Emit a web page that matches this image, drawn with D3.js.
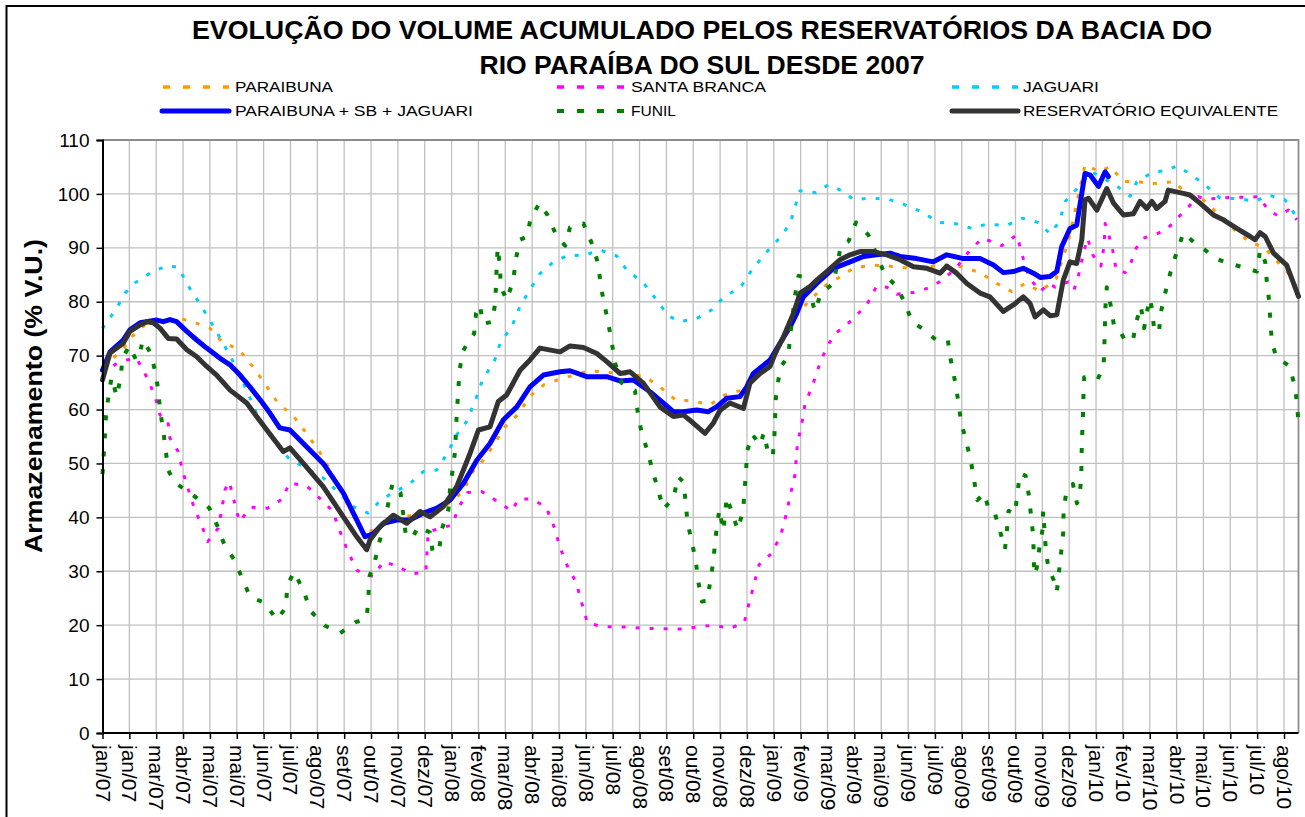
<!DOCTYPE html>
<html><head><meta charset="utf-8">
<script src="https://cdn.jsdelivr.net/npm/d3@7"></script>
<style>
html,body{margin:0;padding:0;background:#fff;}
svg{display:block;font-family:"Liberation Sans",Arial,sans-serif;}
</style></head>
<body>
<svg id="chart" width="1305" height="817"></svg>
<script>
// ---------- DATA ----------
const titleLines = ["EVOLUÇÃO DO VOLUME ACUMULADO PELOS RESERVATÓRIOS DA BACIA DO", "RIO PARAÍBA DO SUL DESDE 2007"];
const yLabel = "Armazenamento (% V.U.)";
const xTickLabels = ["jan/07","jan/07","mar/07","abr/07","mai/07","mai/07","jun/07","jul/07","ago/07","set/07","out/07","nov/07","dez/07",
 "jan/08","fev/08","mar/08","abr/08","mai/08","jun/08","jul/08","ago/08","set/08","out/08","nov/08","dez/08",
 "jan/09","fev/09","mar/09","abr/09","mai/09","jun/09","jul/09","ago/09","set/09","out/09","nov/09","dez/09",
 "jan/10","fev/10","mar/10","abr/10","mai/10","jun/10","jul/10","ago/10"];
const yTicks = [0,10,20,30,40,50,60,70,80,90,100,110];
const xMax = 44.54; // position of right edge, in tick-interval units

// series: [position in tick-interval units, % V.U.]
const paraibuna = [[0,68],[0.72,70.9],[1.09,73.5],[1.58,75.7],[2.33,76.5],[2.82,77],[3.45,76.1],[4.0,75.1],[4.44,72.6],[5.08,71.1],[5.59,68],[6.05,64.8],[6.53,61.2],[7.11,58.8],[7.58,55.7],[8.04,52.5],[8.41,49.4],[8.78,45.7],[9.19,41.9],[9.66,37.5],[10.15,37.5],[10.89,40],[11.83,40.5],[12.45,40.8],[13.19,43.8],[13.44,44.9],[13.75,48.2],[14.25,51],[14.99,56.8],[15.49,59.2],[15.92,62.5],[16.44,64.6],[17.01,65.6],[18.13,67.2],[18.78,66.9],[20.18,66.2],[20.76,64.2],[21.36,61.7],[21.88,61.7],[22.63,60.9],[23.18,62.7],[23.81,63.6],[24.18,66.4],[25.05,70],[25.85,77.6],[26.29,80],[26.85,82.8],[27.4,84.4],[27.96,86.2],[28.65,86.8],[29.33,86.6],[30.08,86.2],[31.38,86.8],[32.0,86.5],[32.68,85.4],[33.3,83.4],[33.86,81.9],[34.36,83.4],[34.92,81.9],[35.51,84.2],[35.97,91.2],[36.59,105.4],[37.15,104.1],[37.52,105.1],[38.02,102.3],[38.52,102.3],[39.08,101.9],[39.94,102.3],[40.38,99.8],[41.0,98.9],[42.24,93],[42.74,91],[43.23,90.2],[44.16,85.3],[44.54,82]];

const santaBranca = [[0,66.5],[0.53,68.6],[0.9,69.2],[1.27,69.5],[1.65,66],[1.96,62.4],[2.14,59],[2.43,58.1],[2.51,54.7],[2.82,52.2],[2.99,48.5],[3.2,45.1],[3.42,41.7],[3.72,38.2],[3.92,35.5],[4.31,38],[4.44,41.4],[4.56,45.1],[4.72,46.6],[4.91,42.9],[5.1,39.2],[5.53,41.9],[6.14,41.7],[6.7,43.4],[6.96,46.4],[7.61,45.8],[8.1,43.5],[8.57,41.2],[8.85,37.3],[9.13,33.8],[9.47,30.2],[9.84,29.3],[10.09,29.1],[10.46,31.8],[10.96,31],[11.52,29.5],[12.04,29.9],[12.13,37.3],[12.57,38],[13.03,38.6],[13.25,41.7],[13.59,44.6],[14.12,44.8],[14.63,43.2],[15.24,41.2],[15.49,43.4],[15.98,43.4],[16.52,41.9],[16.82,38.2],[17.04,34.4],[17.29,31.2],[17.64,27.9],[17.85,24.1],[18.06,20.4],[18.65,19.7],[19.27,19.7],[20.35,19.4],[21.51,19.3],[22.75,20],[23.37,19.4],[23.9,20.5],[24.08,24.1],[24.26,27.5],[24.45,31.2],[24.92,33.3],[25.26,36.7],[25.45,40.3],[25.61,44],[25.79,48],[25.88,53.7],[26.04,57.3],[26.16,61],[26.45,64.6],[26.72,68.6],[27.01,72],[27.34,74.3],[27.84,76.3],[28.46,79.4],[28.83,82.9],[29.21,82.7],[29.58,81.4],[30.2,81.7],[30.79,82.6],[31.17,83.7],[31.75,86],[32.31,89.6],[32.77,91.8],[33.49,90.4],[34.05,92.4],[34.29,88],[34.51,84.5],[34.92,81.9],[35.24,83.4],[35.48,82.7],[35.97,83.7],[36.18,82.2],[36.34,84.7],[36.53,89],[36.68,91.8],[36.88,88.7],[37.18,86.6],[37.3,90.5],[37.34,94.5],[37.46,92.7],[37.62,89.6],[37.75,85.9],[38.08,85.4],[38.27,86.8],[38.49,89.9],[38.76,91.8],[39.26,92.6],[39.63,93.4],[39.94,95],[40.32,97],[40.81,99.5],[41.06,99],[42.18,99.4],[42.74,99.4],[43.05,99.5],[43.42,97],[43.79,95.9],[44.16,97],[44.48,95.2]];

const jaguari = [[0,75],[0.09,75.7],[0.53,78.8],[0.84,81.6],[1.24,83.6],[1.8,85.4],[2.41,86.7],[2.82,86.4],[3.2,82.9],[3.63,79.6],[4.05,76.1],[4.46,72.6],[4.83,69.2],[5.18,65.6],[5.47,62.4],[5.78,58.8],[6.92,51],[8.22,47.3],[9.34,42],[9.9,40.8],[10.27,42.7],[10.77,44.5],[11.39,46],[11.95,48.5],[12.45,48.8],[12.88,52.2],[13.19,55.3],[13.56,57.8],[13.87,61.5],[14.16,65.6],[14.59,68.9],[14.8,72.2],[15.26,75.6],[15.55,79.2],[15.95,82.5],[16.29,85.2],[16.73,87.1],[17.35,88.7],[17.88,88.5],[18.53,89.6],[19.15,88.5],[19.52,85.9],[20.14,83.5],[20.64,80.3],[21.07,77.4],[21.51,76.3],[22.13,76.9],[22.69,78.5],[23.18,81.1],[23.74,82.5],[24.18,85.9],[24.71,89.1],[25.21,91.8],[25.61,94.5],[25.79,97.6],[25.98,100.6],[26.57,100.2],[27.03,101.7],[27.53,100.6],[27.99,98.9],[28.52,99.2],[29.27,99],[29.82,98.1],[30.51,96.7],[31.13,94.7],[31.69,94.6],[32.37,93.6],[32.93,94.4],[33.65,94.1],[34.26,95.5],[34.85,94.7],[35.29,92.6],[35.64,94.9],[35.85,98.6],[36.28,100.9],[36.84,104.1],[37.71,101.7],[38.27,99.6],[38.52,102.3],[39.14,104.1],[39.61,104.3],[40.01,105.2],[40.57,103.5],[41.12,101.4],[41.62,99.2],[42.36,99.1],[42.92,98.6],[43.42,99.8],[44.04,98.9],[44.54,95.2]];

const somaPSJ = [[0,67.3],[0.28,70.7],[0.77,72.9],[1.02,74.8],[1.4,76.1],[2.02,76.6],[2.26,76.3],[2.51,76.7],[2.76,76.3],[3.14,74.5],[3.51,72.9],[3.88,71.4],[4.38,69.5],[4.75,68.3],[5.12,66.4],[5.49,64.2],[5.87,61.8],[6.24,59.3],[6.6,56.6],[6.98,56.2],[7.48,53.7],[8.22,50],[8.97,44.5],[9.47,39.5],[9.78,36.4],[10.09,37],[10.46,38.9],[10.96,39.5],[11.45,39.5],[11.95,40.8],[12.45,41.7],[12.94,43.2],[13.44,46.3],[13.94,50.6],[14.43,53.7],[14.93,58.1],[15.43,60.5],[15.92,64.2],[16.42,66.4],[17.04,67],[17.41,67.2],[18.03,66.1],[18.78,66.1],[19.27,65.3],[19.77,65.5],[20.39,63.3],[20.89,61.2],[21.26,59.6],[21.63,59.6],[22.13,59.9],[22.56,59.6],[22.87,60.5],[23.25,62.1],[23.74,62.4],[23.99,64.2],[24.24,66.7],[24.86,69.2],[25.23,72.3],[25.61,75.4],[25.85,77.8],[26.1,80.9],[26.6,83.4],[27.22,86.2],[27.84,87.4],[28.34,88.4],[28.83,88.7],[29.33,89],[29.7,88.4],[30.32,88],[30.94,87.4],[31.44,88.7],[32.06,88],[32.68,88],[33.18,86.8],[33.55,85.4],[33.92,85.6],[34.29,86.2],[34.67,85.3],[34.92,84.5],[35.29,84.7],[35.54,85.6],[35.72,90.2],[36.03,93.6],[36.28,94.2],[36.47,100.1],[36.59,103.8],[36.78,103.5],[37.09,101.4],[37.34,104.1],[37.46,103.2]];

const funil = [[0,48],[0.09,55.1],[0.13,58.8],[0.22,62.4],[0.34,66],[0.53,62.4],[0.68,66],[0.74,69.5],[1.0,71.8],[1.25,69.2],[1.37,69.9],[1.5,72.9],[1.77,70.7],[1.96,67.2],[2.08,63.5],[2.14,60],[2.26,56.2],[2.36,52.2],[2.45,48.7],[2.7,46.4],[3.01,45.4],[3.32,44.3],[3.69,42.9],[3.98,41.7],[4.28,38.4],[4.54,34.9],[4.91,32.1],[5.22,28.5],[5.49,25.3],[6.05,24.1],[6.49,21],[6.83,23.3],[6.88,27.3],[7.13,29.9],[7.5,26.3],[7.73,22.7],[8.29,19.9],[8.85,18.5],[9.41,20.5],[9.84,21.3],[9.9,25],[9.94,29],[10.15,32],[10.3,35.3],[10.46,38],[10.7,44],[10.8,46.3],[11.1,44.5],[11.29,37],[11.54,36.1],[11.75,38.3],[12.2,37.2],[12.3,33.4],[12.54,34],[12.63,37.7],[12.88,41.4],[12.94,45.1],[13.13,52.2],[13.16,55.9],[13.2,59.8],[13.25,63.5],[13.29,67],[13.41,70.7],[13.62,72.6],[13.84,74.1],[13.91,77.8],[14.06,79.4],[14.16,75.9],[14.53,76.3],[14.62,79.8],[14.66,83.4],[14.68,87.1],[14.72,90.1],[14.8,86.5],[14.83,82.9],[15.05,80.3],[15.3,84],[15.39,87.8],[15.55,91.5],[15.82,92.1],[15.93,95.2],[16.27,98.3],[16.57,96.1],[16.89,92.4],[17.23,90.4],[17.41,93.8],[17.91,94.5],[18.25,90.5],[18.47,86.8],[18.55,83.1],[18.69,79.5],[18.84,75.9],[18.97,72.3],[19.09,68.6],[19.34,64.9],[19.83,63.5],[19.93,59.6],[20.06,56.1],[20.3,52.2],[20.49,48.6],[20.69,45.1],[20.89,41.5],[21.28,43.7],[21.42,47.6],[21.63,46.6],[21.72,42.9],[21.78,39.2],[21.95,35.4],[22.1,31.7],[22.19,28],[22.32,24.4],[22.5,24.5],[22.65,28.4],[22.75,32.1],[22.85,37],[22.97,41.5],[23.12,37.5],[23.25,43.8],[23.46,40.6],[23.66,37.7],[23.86,41.4],[23.91,45],[23.97,48.6],[24.0,52.2],[24.2,55.4],[24.49,53.4],[24.63,55.7],[24.76,52.6],[24.96,51.2],[25.02,55],[25.08,62.3],[25.17,65.5],[25.27,68],[25.54,69.9],[25.61,73.7],[25.79,81.1],[25.92,84.8],[26.22,84.5],[26.35,81.3],[26.54,78.2],[26.75,81.6],[27.22,83.4],[27.5,90.4],[27.78,91.2],[28.06,94.7],[28.52,92.4],[29.14,85],[29.58,82.8],[29.89,79.7],[30.14,76.3],[30.57,74.9],[31.04,72.9],[31.48,72.9],[31.59,69.2],[31.75,65.2],[31.87,61.5],[31.97,57.8],[32.16,54.2],[32.34,50.4],[32.47,46.6],[32.58,43.2],[32.83,44.5],[33.03,41.1],[33.24,40.6],[33.45,37],[33.61,34.1],[33.68,37.5],[33.74,41.2],[33.99,40.6],[34.06,44.3],[34.18,48.2],[34.38,47.7],[34.5,44],[34.58,40.3],[34.66,36.6],[34.68,33],[34.7,29.3],[34.79,30.6],[34.89,34.3],[35.01,37.8],[35.03,41.2],[35.13,34.1],[35.22,30.7],[35.43,28.3],[35.54,26.2],[35.62,29.9],[35.7,33.5],[35.78,37.2],[35.79,41],[35.89,44.7],[36.14,46.2],[36.29,42.6],[36.38,43.7],[36.45,47.4],[36.46,51.2],[36.48,54.9],[36.51,58.1],[36.53,62.3],[36.56,66],[36.84,66],[37.06,65.6],[37.28,68],[37.31,71.7],[37.33,75.4],[37.35,79.1],[37.4,82.7],[37.55,79.2],[37.67,75.5],[37.85,74.9],[38.06,73],[38.37,72.7],[38.49,76.1],[38.67,79.2],[38.79,75.1],[38.99,80.6],[39.08,78.8],[39.16,75.1],[39.34,74.2],[39.41,77.9],[39.55,81.1],[39.78,85.6],[40.01,89.3],[40.26,92.8],[40.69,90.8],[41.03,89.7],[41.47,88],[41.93,87.1],[42.49,86.4],[42.99,85.6],[43.11,89.6],[43.3,87.4],[43.36,83.7],[43.45,80],[43.49,76.3],[43.55,72.6],[43.71,69.7],[44.2,68.1],[44.41,64.2],[44.5,60.5],[44.54,56.8]];

const equivalente = [[0,65.5],[0.28,70.5],[0.77,72.3],[1.02,74.5],[1.4,75.7],[1.65,76.3],[1.89,76.1],[2.14,75.1],[2.45,73.2],[2.76,73.1],[3.14,71.1],[3.51,69.8],[3.88,68],[4.25,66.4],[4.75,63.6],[5.37,61.2],[5.74,58.7],[6.24,55.4],[6.73,52.2],[6.98,52.9],[7.48,50],[8.22,45.7],[8.97,40.1],[9.47,36.4],[9.84,34],[9.96,35.8],[10.34,38.3],[10.83,40.4],[11.33,38.9],[11.83,41.1],[12.2,40.1],[12.69,42],[13.19,45.7],[13.69,51.9],[14.0,56.2],[14.43,56.8],[14.74,61.5],[15.05,62.7],[15.55,67.3],[15.92,69.2],[16.29,71.4],[17.04,70.7],[17.41,71.8],[17.91,71.5],[18.41,70.4],[18.78,68.9],[19.27,66.7],[19.65,67],[20.14,64.9],[20.76,60.5],[21.26,58.7],[21.63,59],[22.0,57.5],[22.44,55.6],[22.75,57.5],[23.0,59.9],[23.37,61.2],[23.87,60.2],[24.11,64.9],[24.49,66.7],[24.86,68],[25.05,70.4],[25.36,73.5],[25.73,77.8],[25.98,81.6],[26.35,82.8],[26.6,84],[26.97,85.6],[27.47,87.8],[27.84,88.7],[28.21,89.3],[28.71,89.3],[29.21,88.7],[29.7,87.8],[30.2,86.5],[30.7,86.2],[31.19,85.3],[31.44,86.6],[31.81,85.3],[32.19,83.4],[32.68,81.6],[33.05,80.9],[33.55,78.2],[33.92,79.4],[34.29,80.9],[34.54,79.7],[34.73,77.2],[35.04,78.5],[35.29,77.4],[35.54,77.6],[35.78,84],[36.03,87.4],[36.28,87.1],[36.47,91.5],[36.59,98.9],[36.72,99.2],[37.03,97],[37.4,101],[37.65,98.3],[38.02,96.1],[38.39,96.3],[38.64,98.6],[38.89,97.3],[39.08,98.6],[39.26,97.3],[39.57,98.6],[39.69,100.7],[40.25,100.1],[40.5,99.8],[40.87,98.3],[41.37,96.1],[41.74,95.2],[42.24,93.6],[42.74,92.1],[42.92,91.5],[43.11,92.8],[43.3,92.1],[43.61,89],[44.1,86.8],[44.54,81]];

const seriesNames = ["PARAIBUNA","SANTA BRANCA","JAGUARI","PARAIBUNA + SB + JAGUARI","FUNIL","RESERVATÓRIO EQUIVALENTE"];
const seriesData = [paraibuna, santaBranca, jaguari, somaPSJ, funil, equivalente];

// ---------- STYLE / LAYOUT ----------
const styles = [
  {color:"#ff9900", width:3, dash:"4,10", lw:3.5, ldash:"7,13"},
  {color:"#ff00ff", width:3, dash:"4,10", lw:3.5, ldash:"7,13"},
  {color:"#00ccff", width:3, dash:"4,10", lw:3.5, ldash:"7,13"},
  {color:"#0000ff", width:5, dash:null, lw:5, ldash:null},
  {color:"#008000", width:4, dash:"5,13", lw:4, ldash:"7,13"},
  {color:"#333333", width:5, dash:null, lw:5, ldash:null}
];
const legendPos = [
  {x1:163,x2:229,tx:235,y:87, tl:98},
  {x1:557,x2:625,tx:631,y:87, tl:135},
  {x1:952,x2:1018,tx:1023,y:87, tl:76},
  {x1:162,x2:229,tx:235,y:111, tl:238},
  {x1:557,x2:625,tx:631,y:111, tl:45},
  {x1:952,x2:1018,tx:1023,y:111, tl:255}
];
const L=102.5, R=1298.5, T=140, B=733;

const svg = d3.select("#chart");
const x = d3.scaleLinear().domain([0, xMax]).range([L, R]);
const y = d3.scaleLinear().domain([0, 110]).range([B, T]);

// outer chart border
svg.append("path").attr("d","M6.5,830 V6 H1312").attr("fill","none").attr("stroke","#000").attr("stroke-width",2);

// title
titleLines.forEach((t,i)=>{
  svg.append("text").attr("x",702).attr("y", i===0?39:74).attr("text-anchor","middle")
    .attr("font-size",26).attr("font-weight","bold").attr("fill","#000")
    .attr("textLength", i===0?1020:445).attr("lengthAdjust","spacingAndGlyphs").text(t);
});

// gridlines
const g = svg.append("g");
g.selectAll("line.h").data(yTicks.filter(v=>v>0 && v<110)).enter().append("line")
  .attr("x1",L).attr("x2",R).attr("y1",d=>y(d)).attr("y2",d=>y(d))
  .attr("stroke","#c0c0c0").attr("stroke-width",1.3);
g.selectAll("line.v").data(d3.range(1, xTickLabels.length)).enter().append("line")
  .attr("x1",d=>x(d)).attr("x2",d=>x(d)).attr("y1",T).attr("y2",B)
  .attr("stroke","#c0c0c0").attr("stroke-width",1.3);

// plot border (top / right)
svg.append("path").attr("d",`M${L},${T} H${R} V${B}`).attr("fill","none").attr("stroke","#8c8c8c").attr("stroke-width",1.8);

// series
const line = d3.line().x(d=>x(d[0])).y(d=>y(d[1])).curve(d3.curveLinear);
const plot = svg.append("g");
seriesData.forEach((data,i)=>{
  const s = styles[i];
  const p = plot.append("path").datum(data).attr("d",line).attr("fill","none")
    .attr("stroke",s.color).attr("stroke-width",s.width)
    .attr("stroke-linejoin","round");
  if (s.dash) p.attr("stroke-dasharray",s.dash).attr("stroke-linecap","butt");
  else p.attr("stroke-linecap","round");
});

// axes
const yAxis = d3.axisLeft(y).tickValues(yTicks).tickSize(6).tickPadding(7).tickFormat(d3.format("d"));
const ya = svg.append("g").attr("transform",`translate(${L},0)`).call(yAxis);
ya.select(".domain").attr("stroke","#000").attr("stroke-width",2);
ya.selectAll(".tick line").attr("stroke","#000").attr("stroke-width",1.5);
ya.selectAll(".tick text").attr("font-size",19).attr("font-family","Liberation Sans, Arial, sans-serif").attr("fill","#000");

const xAxis = d3.axisBottom(x).tickValues(d3.range(xTickLabels.length)).tickSize(6).tickFormat(i=>xTickLabels[i]);
const xa = svg.append("g").attr("transform",`translate(0,${B})`).call(xAxis);
xa.select(".domain").attr("stroke","#000").attr("stroke-width",2).attr("d",`M${L},0 H${R}`);
xa.selectAll(".tick line").attr("stroke","#000").attr("stroke-width",1.5);
xa.selectAll(".tick text").attr("font-size",21).attr("font-family","Liberation Sans, Arial, sans-serif").attr("fill","#000")
  .attr("text-anchor","start").attr("dy",null).attr("y",null)
  .attr("dominant-baseline","central")
  .attr("transform","translate(0,12) rotate(90)");

// y label
svg.append("text").attr("transform","translate(34,396) rotate(-90)").attr("text-anchor","middle")
  .attr("dominant-baseline","central")
  .attr("font-size",23).attr("font-weight","bold").attr("textLength",314).attr("lengthAdjust","spacingAndGlyphs")
  .text(yLabel);

// legend
seriesNames.forEach((name,i)=>{
  const s = styles[i], p = legendPos[i];
  const l = svg.append("line").attr("x1",p.x1).attr("x2",p.x2).attr("y1",p.y).attr("y2",p.y)
    .attr("stroke",s.color).attr("stroke-width",s.lw);
  if (s.ldash) l.attr("stroke-dasharray",s.ldash); else l.attr("stroke-linecap","round");
  svg.append("text").attr("x",p.tx).attr("y",p.y+5).attr("font-size",14).attr("fill","#000")
    .attr("textLength",p.tl).attr("lengthAdjust","spacingAndGlyphs").text(name);
});
</script>
</body></html>
